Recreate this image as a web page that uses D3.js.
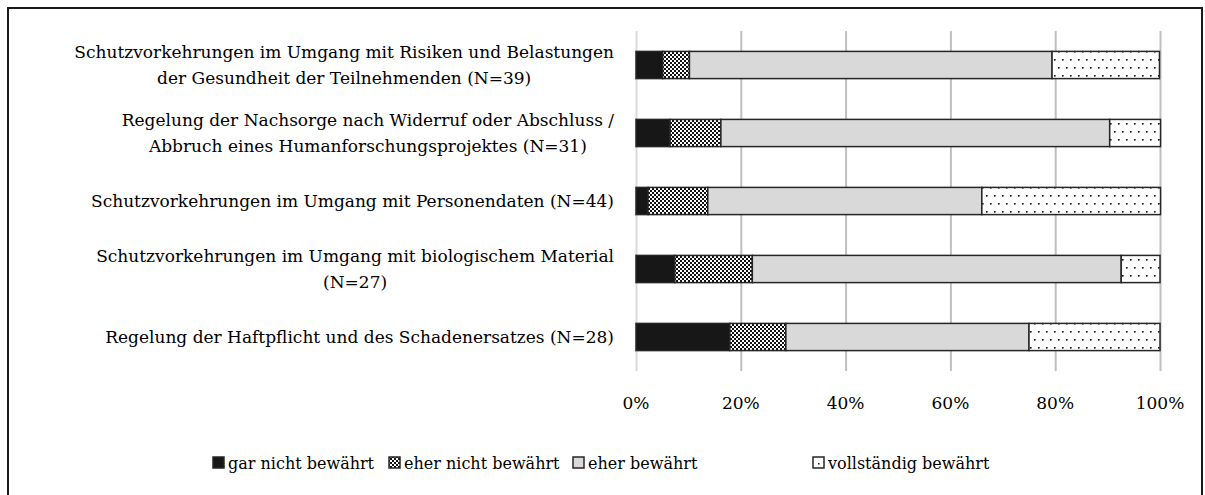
<!DOCTYPE html>
<html>
<head>
<meta charset="utf-8">
<script src="https://cdn.jsdelivr.net/npm/d3@7"></script>
<style>
  html, body { margin: 0; padding: 0; background: #fff; }
  svg text { font-family: "DejaVu Serif", "Liberation Serif", serif; fill: #000; }
</style>
</head>
<body>
<svg id="chart" width="1205" height="495"></svg>
<script>
// category labels (lines), drawn top to bottom
const categories = [
  ["Schutzvorkehrungen im Umgang mit Risiken und Belastungen", "der Gesundheit der Teilnehmenden (N=39)"],
  ["Regelung der Nachsorge nach Widerruf oder Abschluss /", "Abbruch eines Humanforschungsprojektes (N=31)"],
  ["Schutzvorkehrungen im Umgang mit Personendaten (N=44)"],
  ["Schutzvorkehrungen im Umgang mit biologischem Material", "(N=27)"],
  ["Regelung der Haftpflicht und des Schadenersatzes (N=28)"]
];
const seriesNames = ["gar nicht bewährt", "eher nicht bewährt", "eher bewährt", "vollständig bewährt"];
// shares in percent per category
const garNicht    = [5.1, 6.5, 2.3, 7.4, 17.9];
const eherNicht   = [5.1, 9.7, 11.4, 14.8, 10.7];
const eher        = [69.2, 74.2, 52.3, 70.4, 46.4];
const vollstaendig = [20.5, 9.7, 34.1, 7.4, 25.0];
const tickValues = [0, 20, 40, 60, 80, 100];

const seriesData = [garNicht, eherNicht, eher, vollstaendig];
const svg = d3.select("#chart");
const fontSize = 17;

// patterns
const defs = svg.append("defs");
const checker = defs.append("pattern").attr("id", "checker")
  .attr("patternUnits", "userSpaceOnUse").attr("width", 4).attr("height", 4);
checker.append("rect").attr("width", 4).attr("height", 4).attr("fill", "#fff");
checker.append("rect").attr("width", 2).attr("height", 2).attr("fill", "#111");
checker.append("rect").attr("x", 2).attr("y", 2).attr("width", 2).attr("height", 2).attr("fill", "#111");

const dots = defs.append("pattern").attr("id", "dots")
  .attr("patternUnits", "userSpaceOnUse").attr("width", 8).attr("height", 16);
dots.append("rect").attr("width", 8).attr("height", 16).attr("fill", "#fff");
dots.append("rect").attr("x", 2).attr("y", 3).attr("width", 1.6).attr("height", 1.6).attr("fill", "#111");
dots.append("rect").attr("x", 6).attr("y", 11).attr("width", 1.6).attr("height", 1.6).attr("fill", "#111");

const fills = ["#171717", "url(#checker)", "#d9d9d9", "url(#dots)"];

// outer frame
svg.append("rect")
  .attr("x", 8).attr("y", 8).attr("width", 1194).attr("height", 520)
  .attr("fill", "none").attr("stroke", "#1a1a1a").attr("stroke-width", 2);

const x = d3.scaleLinear().domain([0, 100]).range([636, 1160]);
const y = d3.scaleBand().domain(d3.range(categories.length))
  .range([31, 371]).paddingInner(0.6).paddingOuter(0.3);

// gridlines
const grid = svg.append("g")
  .attr("transform", "translate(0,371)")
  .call(d3.axisBottom(x).tickValues(tickValues).tickSize(-340).tickFormat(""));
grid.select(".domain").remove();
grid.selectAll(".tick line")
  .attr("stroke", (d) => d === 0 ? "#d9d9d9" : "#bfbfbf")
  .attr("stroke-width", 2);

// tick labels
svg.append("g").selectAll("text")
  .data(tickValues)
  .join("text")
  .attr("x", d => x(d))
  .attr("y", 409)
  .attr("text-anchor", "middle")
  .style("font-size", fontSize + "px")
  .text(d => d + "%");

// stacked bars
const stacked = categories.map((c, i) => {
  let acc = 0;
  return seriesData.map((s, k) => {
    const seg = { cat: i, k: k, x0: acc, x1: acc + s[i] };
    acc += s[i];
    return seg;
  });
}).flat();

svg.append("g").selectAll("rect")
  .data(stacked)
  .join("rect")
  .attr("x", d => x(d.x0))
  .attr("width", d => x(d.x1) - x(d.x0))
  .attr("y", d => y(d.cat))
  .attr("height", y.bandwidth())
  .attr("fill", d => fills[d.k])
  .attr("stroke", "#262626")
  .attr("stroke-width", 1.5);

// category labels: block right-aligned at 614, lines centered within block
const labelRight = 614;
const lineH = 26;
categories.forEach((lines, i) => {
  const g = svg.append("g");
  const cy = y(i) + y.bandwidth() / 2;
  const texts = lines.map((t, j) => g.append("text")
    .style("font-size", fontSize + "px")
    .attr("y", cy + (j - (lines.length - 1) / 2) * lineH)
    .attr("dy", "0.35em")
    .attr("text-anchor", "middle")
    .text(t));
  const maxW = d3.max(texts, t => t.node().getComputedTextLength());
  texts.forEach(t => t.attr("x", labelRight - maxW / 2));
});

// legend
const legendX = [213, 389, 573, 813];
const legendY = 463;
const legend = svg.append("g");
seriesNames.forEach((name, k) => {
  legend.append("rect")
    .attr("x", legendX[k]).attr("y", legendY - 6)
    .attr("width", 11).attr("height", 11)
    .attr("fill", k === 3 ? "#fff" : fills[k])
    .attr("stroke", "#262626").attr("stroke-width", 1.5);
  if (k === 3) {
    legend.append("rect").attr("x", legendX[k] + 5).attr("y", legendY)
      .attr("width", 1.5).attr("height", 1.5).attr("fill", "#111");
  }
  legend.append("text")
    .attr("x", legendX[k] + 15)
    .attr("y", legendY)
    .attr("dy", "0.35em")
    .style("font-size", "16px")
    .text(name);
});
</script>
</body>
</html>
